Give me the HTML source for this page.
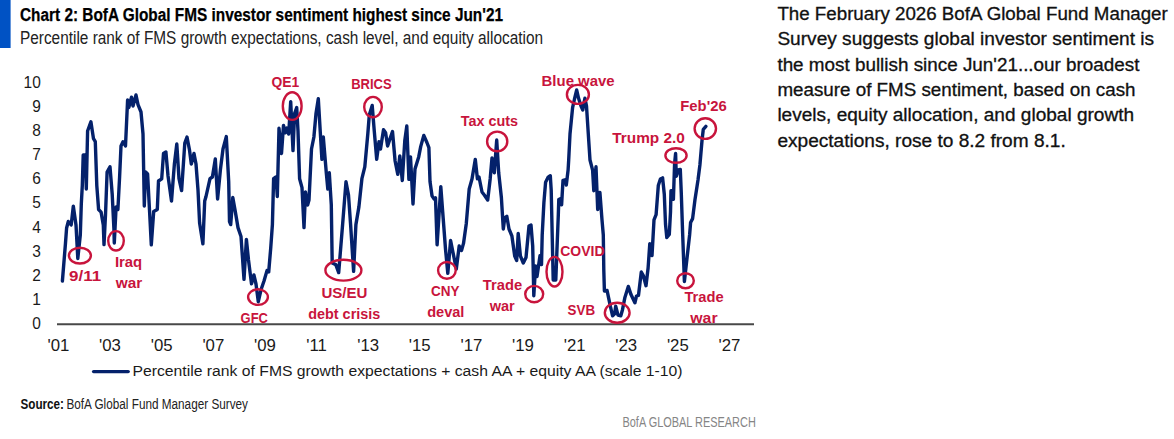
<!DOCTYPE html>
<html><head><meta charset="utf-8"><title>Chart 2</title>
<style>
html,body{margin:0;padding:0;background:#fff;}
body{width:1174px;height:439px;overflow:hidden;font-family:"Liberation Sans",sans-serif;}
svg{display:block;}
text{font-family:"Liberation Sans",sans-serif;}
.ann{font-size:15px;font-weight:bold;fill:#c8143c;}
.ax{font-size:16.3px;fill:#1a1a1a;}
.rt{font-size:17.5px;fill:#111;stroke:#111;stroke-width:0.3px;}
</style></head><body>
<svg width="1174" height="439" viewBox="0 0 1174 439">
<rect x="0" y="0" width="10.6" height="48" fill="#0052c4"/>
<text x="20" y="21.3" font-size="18" font-weight="bold" fill="#000" stroke="#000" stroke-width="0.25" textLength="483" lengthAdjust="spacingAndGlyphs">Chart 2: BofA Global FMS investor sentiment highest since Jun'21</text>
<text x="20" y="44.1" font-size="17.5" fill="#222" textLength="523" lengthAdjust="spacingAndGlyphs">Percentile rank of FMS growth expectations, cash level, and equity allocation</text>
<text transform="translate(40.8,329.2) scale(0.95,1)" text-anchor="end" class="ax">0</text><text transform="translate(40.8,305.1) scale(0.95,1)" text-anchor="end" class="ax">1</text><text transform="translate(40.8,280.9) scale(0.95,1)" text-anchor="end" class="ax">2</text><text transform="translate(40.8,256.8) scale(0.95,1)" text-anchor="end" class="ax">3</text><text transform="translate(40.8,232.6) scale(0.95,1)" text-anchor="end" class="ax">4</text><text transform="translate(40.8,208.4) scale(0.95,1)" text-anchor="end" class="ax">5</text><text transform="translate(40.8,184.3) scale(0.95,1)" text-anchor="end" class="ax">6</text><text transform="translate(40.8,160.2) scale(0.95,1)" text-anchor="end" class="ax">7</text><text transform="translate(40.8,136.0) scale(0.95,1)" text-anchor="end" class="ax">8</text><text transform="translate(40.8,111.9) scale(0.95,1)" text-anchor="end" class="ax">9</text><text transform="translate(40.8,87.7) scale(0.95,1)" text-anchor="end" class="ax">10</text>
<line x1="57" y1="324.2" x2="754" y2="324.2" stroke="#484848" stroke-width="1.9"/>
<text transform="translate(58.4,350.6) scale(1.03,1)" text-anchor="middle" class="ax">'01</text><text transform="translate(110.0,350.6) scale(1.03,1)" text-anchor="middle" class="ax">'03</text><text transform="translate(161.6,350.6) scale(1.03,1)" text-anchor="middle" class="ax">'05</text><text transform="translate(213.3,350.6) scale(1.03,1)" text-anchor="middle" class="ax">'07</text><text transform="translate(264.9,350.6) scale(1.03,1)" text-anchor="middle" class="ax">'09</text><text transform="translate(316.5,350.6) scale(1.03,1)" text-anchor="middle" class="ax">'11</text><text transform="translate(368.1,350.6) scale(1.03,1)" text-anchor="middle" class="ax">'13</text><text transform="translate(419.7,350.6) scale(1.03,1)" text-anchor="middle" class="ax">'15</text><text transform="translate(471.4,350.6) scale(1.03,1)" text-anchor="middle" class="ax">'17</text><text transform="translate(523.0,350.6) scale(1.03,1)" text-anchor="middle" class="ax">'19</text><text transform="translate(574.6,350.6) scale(1.03,1)" text-anchor="middle" class="ax">'21</text><text transform="translate(626.2,350.6) scale(1.03,1)" text-anchor="middle" class="ax">'23</text><text transform="translate(677.8,350.6) scale(1.03,1)" text-anchor="middle" class="ax">'25</text><text transform="translate(729.5,350.6) scale(1.03,1)" text-anchor="middle" class="ax">'27</text>
<path d="M62.4,281.0 L65.5,243.0 L66.6,228.0 L68.3,221.5 L71.2,224.9 L73.3,206.1 L76.0,224.9 L77.8,258.5 L80.3,235.0 L81.3,204.0 L82.3,185.6 L83.2,155.0 L85.3,155.0 L86.3,189.0 L87.6,131.0 L90.9,121.8 L93.5,138.7 L95.3,141.7 L96.8,185.6 L98.6,209.5 L101.1,212.1 L103.3,224.9 L104.0,244.6 L105.5,215.0 L107.1,172.0 L110.0,166.8 L112.2,194.2 L113.9,228.3 L114.3,243.0 L116.1,207.0 L117.9,209.5 L119.6,177.0 L121.0,146.0 L123.0,141.7 L125.5,146.0 L127.6,100.0 L128.8,107.6 L131.5,97.2 L133.0,106.0 L136.0,95.0 L138.0,104.6 L141.0,112.0 L143.0,134.0 L144.3,206.0 L145.6,172.0 L147.6,174.0 L149.5,210.0 L151.3,244.8 L153.7,211.5 L157.3,209.5 L158.5,181.0 L161.7,178.8 L163.5,153.5 L165.9,152.0 L168.0,175.7 L171.5,201.0 L174.4,163.9 L176.8,144.0 L179.0,178.7 L181.6,190.6 L184.8,143.0 L187.0,137.0 L189.5,150.0 L191.3,164.0 L194.0,153.5 L196.0,164.0 L198.0,190.0 L199.6,223.0 L202.9,243.9 L204.7,201.0 L206.0,196.5 L210.0,178.7 L212.4,177.0 L215.3,158.9 L217.6,199.0 L220.4,169.8 L223.0,149.0 L226.3,136.6 L228.7,181.7 L229.5,221.7 L230.7,224.6 L232.8,197.5 L235.0,209.8 L238.0,227.6 L241.0,236.5 L244.0,279.4 L246.4,239.4 L248.5,260.0 L251.5,283.9 L253.9,275.0 L256.0,284.0 L258.3,301.7 L261.0,289.8 L264.0,281.0 L267.0,270.6 L268.7,272.0 L270.7,248.3 L272.4,224.6 L273.6,178.7 L276.0,177.0 L277.3,196.5 L279.0,128.3 L281.5,153.5 L283.5,125.4 L285.4,132.8 L287.0,128.0 L288.7,134.0 L290.7,101.7 L293.0,150.6 L294.6,113.5 L296.7,107.6 L298.0,131.0 L299.6,178.7 L302.0,187.6 L304.0,227.6 L305.5,192.0 L307.6,205.0 L309.0,200.0 L311.5,149.0 L313.9,137.0 L316.0,113.5 L318.3,98.7 L320.4,134.0 L321.9,159.4 L323.3,137.0 L326.3,172.8 L327.8,189.0 L329.3,172.8 L331.3,205.0 L332.2,263.0 L335.8,264.6 L338.7,272.6 L342.6,224.6 L346.0,181.7 L348.5,195.0 L350.6,224.6 L353.6,271.4 L355.9,224.6 L358.9,206.9 L361.9,178.7 L364.8,166.9 L367.8,134.0 L369.3,115.0 L372.2,105.5 L374.3,131.3 L376.7,159.4 L379.0,141.7 L380.5,149.0 L383.5,129.8 L385.6,132.8 L387.6,146.0 L390.0,138.7 L392.5,131.5 L395.1,161.0 L397.8,174.3 L399.8,155.9 L402.3,180.5 L404.8,140.5 L406.8,126.0 L408.9,179.4 L410.5,156.9 L413.0,204.0 L415.0,169.0 L418.7,156.9 L420.7,146.6 L423.8,135.4 L426.9,142.5 L428.9,147.7 L430.0,181.5 L432.0,195.8 L434.0,198.9 L435.5,197.9 L437.1,244.8 L440.8,186.7 L442.7,212.0 L445.5,249.0 L447.8,273.3 L450.6,240.5 L452.9,252.0 L456.3,269.0 L459.2,246.0 L461.5,250.5 L463.5,243.4 L466.3,223.4 L469.2,189.0 L472.0,179.0 L475.3,159.4 L477.4,178.7 L479.0,177.0 L482.0,192.0 L484.3,195.0 L487.7,200.0 L490.2,178.7 L492.0,158.0 L494.3,172.8 L496.7,140.0 L498.7,172.8 L501.4,197.8 L503.3,229.0 L504.8,217.7 L506.8,216.3 L509.0,229.0 L511.9,236.0 L514.7,256.0 L516.7,260.5 L518.2,233.4 L520.4,256.0 L523.3,263.0 L526.0,257.6 L529.0,226.0 L531.0,225.0 L532.7,246.0 L533.8,295.7 L535.6,266.0 L537.0,276.5 L540.0,255.7 L541.5,264.6 L542.2,235.0 L543.9,202.7 L545.6,182.2 L548.2,177.1 L550.3,175.7 L551.2,190.0 L553.2,280.0 L555.8,280.0 L558.3,215.0 L558.8,199.4 L560.8,198.4 L561.6,204.9 L563.0,180.3 L565.8,179.6 L566.3,185.0 L568.1,170.0 L568.7,160.0 L570.0,134.0 L572.6,107.6 L574.5,99.0 L576.7,90.0 L578.5,98.0 L581.0,106.0 L582.8,110.0 L584.9,98.2 L586.5,106.0 L588.3,134.0 L590.0,160.0 L592.6,170.2 L593.8,190.7 L596.0,166.8 L597.7,209.5 L599.9,192.4 L602.0,219.8 L603.3,235.0 L603.8,270.0 L604.4,291.0 L607.1,290.5 L608.5,297.4 L610.5,306.9 L612.6,315.8 L614.6,313.8 L615.7,306.2 L618.0,315.1 L620.8,315.8 L622.5,309.7 L624.9,297.4 L628.3,286.4 L631.0,294.6 L634.9,302.8 L636.5,296.0 L638.5,295.3 L641.3,272.0 L643.3,275.5 L646.0,285.7 L648.1,268.0 L649.8,243.7 L652.0,255.6 L654.0,219.8 L656.1,214.6 L658.3,185.6 L660.4,179.1 L662.6,177.9 L664.3,194.2 L665.5,224.0 L666.8,237.5 L669.3,234.5 L670.5,212.0 L671.0,190.8 L672.3,190.7 L673.4,199.3 L674.6,163.4 L675.6,153.5 L676.3,176.2 L678.3,170.0 L680.3,169.5 L681.3,193.5 L682.7,235.0 L684.4,281.5 L689.6,235.0 L690.6,222.5 L692.6,218.6 L695.0,199.5 L698.0,180.0 L699.9,165.0 L702.1,139.5 L703.3,129.3 L705.9,126.4" fill="none" stroke="#04216b" stroke-width="3.4" stroke-linejoin="round" stroke-linecap="round"/>
<ellipse cx="79.9" cy="255.6" rx="11" ry="7.9" fill="none" stroke="#c8143c" stroke-width="2.4"/><text x="69.1" y="281.4" class="ann" textLength="32.1" lengthAdjust="spacingAndGlyphs">9/11</text><ellipse cx="116" cy="240.8" rx="7.8" ry="9.7" fill="none" stroke="#c8143c" stroke-width="2.4"/><text x="114.9" y="267.3" class="ann" textLength="27.3" lengthAdjust="spacingAndGlyphs">Iraq</text><text x="115.7" y="288.2" class="ann" textLength="26.5" lengthAdjust="spacingAndGlyphs">war</text><ellipse cx="258" cy="297.1" rx="9.9" ry="7.8" fill="none" stroke="#c8143c" stroke-width="2.4"/><text x="240.6" y="323" class="ann" textLength="27.3" lengthAdjust="spacingAndGlyphs">GFC</text><ellipse cx="292.2" cy="106.1" rx="9.4" ry="13.8" fill="none" stroke="#c8143c" stroke-width="2.4"/><text x="271.5" y="86.6" class="ann" textLength="27.7" lengthAdjust="spacingAndGlyphs">QE1</text><ellipse cx="343.4" cy="270.2" rx="18" ry="10.4" fill="none" stroke="#c8143c" stroke-width="2.4"/><text x="321.4" y="297.7" class="ann" textLength="46.1" lengthAdjust="spacingAndGlyphs">US/EU</text><text x="308.2" y="318.5" class="ann" textLength="72.1" lengthAdjust="spacingAndGlyphs">debt crisis</text><ellipse cx="373" cy="107.1" rx="8.8" ry="10.2" fill="none" stroke="#c8143c" stroke-width="2.4"/><text x="351.2" y="89.3" class="ann" textLength="40.5" lengthAdjust="spacingAndGlyphs">BRICS</text><ellipse cx="446.9" cy="270.4" rx="8.8" ry="8.4" fill="none" stroke="#c8143c" stroke-width="2.4"/><text x="431.1" y="296" class="ann" textLength="28.5" lengthAdjust="spacingAndGlyphs">CNY</text><text x="427.2" y="316.5" class="ann" textLength="37.2" lengthAdjust="spacingAndGlyphs">deval</text><ellipse cx="497.2" cy="141.4" rx="10.1" ry="9.8" fill="none" stroke="#c8143c" stroke-width="2.4"/><text x="460.7" y="126.1" class="ann" textLength="57.3" lengthAdjust="spacingAndGlyphs">Tax cuts</text><ellipse cx="534.2" cy="294.1" rx="9" ry="8.2" fill="none" stroke="#c8143c" stroke-width="2.4"/><text x="482.8" y="290" class="ann" textLength="39.3" lengthAdjust="spacingAndGlyphs">Trade</text><text x="489.7" y="311" class="ann" textLength="25.1" lengthAdjust="spacingAndGlyphs">war</text><ellipse cx="554.5" cy="271.7" rx="8" ry="14.8" fill="none" stroke="#c8143c" stroke-width="2.4"/><text x="560.3" y="256" class="ann" textLength="44.2" lengthAdjust="spacingAndGlyphs">COVID</text><ellipse cx="577.9" cy="94.4" rx="11" ry="9.5" fill="none" stroke="#c8143c" stroke-width="2.4"/><text x="541.6" y="85.5" class="ann" textLength="73.0" lengthAdjust="spacingAndGlyphs">Blue wave</text><ellipse cx="617.2" cy="312.7" rx="12.4" ry="10" fill="none" stroke="#c8143c" stroke-width="2.4"/><text x="567.6" y="314.6" class="ann" textLength="27.5" lengthAdjust="spacingAndGlyphs">SVB</text><ellipse cx="676" cy="155.5" rx="10.6" ry="7.3" fill="none" stroke="#c8143c" stroke-width="2.4"/><text x="612.3" y="142.9" class="ann" textLength="72.6" lengthAdjust="spacingAndGlyphs">Trump 2.0</text><ellipse cx="705.3" cy="128.6" rx="10.7" ry="10.3" fill="none" stroke="#c8143c" stroke-width="2.4"/><text x="680.3" y="110.5" class="ann" textLength="46.4" lengthAdjust="spacingAndGlyphs">Feb'26</text><ellipse cx="685.5" cy="280.7" rx="8.3" ry="7.5" fill="none" stroke="#c8143c" stroke-width="2.4"/><text x="684.4" y="302.3" class="ann" textLength="39.3" lengthAdjust="spacingAndGlyphs">Trade</text><text x="690.3" y="323.3" class="ann" textLength="27.3" lengthAdjust="spacingAndGlyphs">war</text>
<line x1="93.6" y1="371.6" x2="128.2" y2="371.6" stroke="#04216b" stroke-width="3.4" stroke-linecap="round"/>
<text x="132.5" y="375.9" font-size="15.5" fill="#1a1a1a" textLength="550" lengthAdjust="spacingAndGlyphs">Percentile rank of FMS growth expectations + cash AA + equity AA (scale 1-10)</text>
<text x="20.5" y="409.1" font-size="13.8" font-weight="bold" fill="#111" textLength="43.5" lengthAdjust="spacingAndGlyphs">Source:</text>
<text x="66.4" y="409.1" font-size="13.8" fill="#222" textLength="181.6" lengthAdjust="spacingAndGlyphs">BofA Global Fund Manager Survey</text>
<text x="622.5" y="427.3" font-size="14" fill="#858585" textLength="133.3" lengthAdjust="spacingAndGlyphs">BofA GLOBAL RESEARCH</text>
<text x="777.4" y="20.1" class="rt" textLength="390.4" lengthAdjust="spacingAndGlyphs">The February 2026 BofA Global Fund Manager</text><text x="777.4" y="45.4" class="rt" textLength="376.7" lengthAdjust="spacingAndGlyphs">Survey suggests global investor sentiment is</text><text x="777.4" y="70.7" class="rt" textLength="362.1" lengthAdjust="spacingAndGlyphs">the most bullish since Jun'21...our broadest</text><text x="777.4" y="96.0" class="rt" textLength="358.1" lengthAdjust="spacingAndGlyphs">measure of FMS sentiment, based on cash</text><text x="777.4" y="121.2" class="rt" textLength="356.7" lengthAdjust="spacingAndGlyphs">levels, equity allocation, and global growth</text><text x="777.4" y="146.6" class="rt" textLength="288.3" lengthAdjust="spacingAndGlyphs">expectations, rose to 8.2 from 8.1.</text>
</svg>
</body></html>
